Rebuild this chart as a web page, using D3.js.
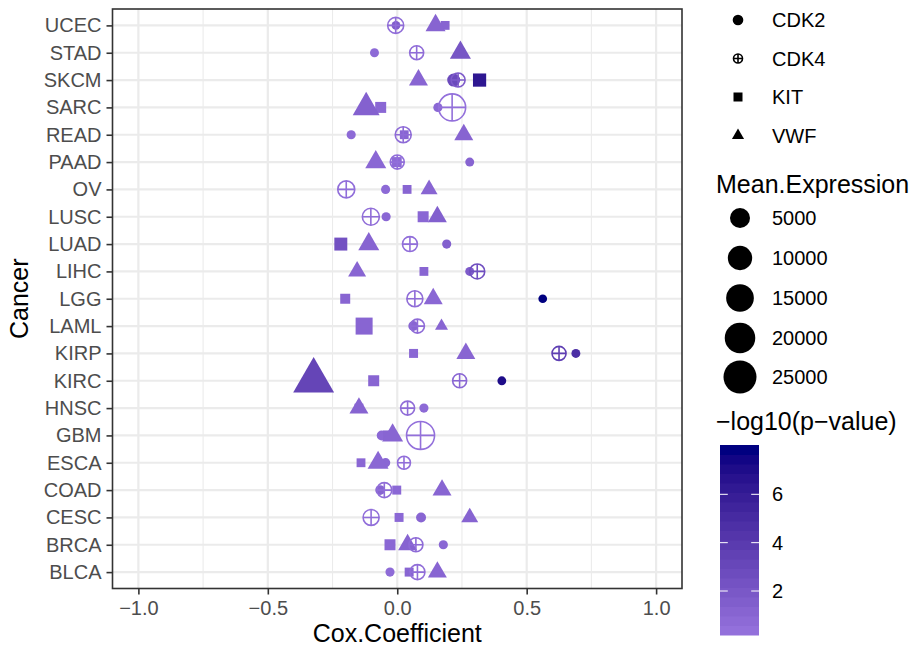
<!DOCTYPE html>
<html>
<head>
<meta charset="utf-8">
<script src="https://cdn.jsdelivr.net/npm/d3@7"></script>
<style>
body { margin: 0; background: #fff; }
text { font-family: "Liberation Sans", Arial, sans-serif; }
</style>
</head>
<body>
<div id="chart"></div>
<script>
/* Cox coefficient dot plot */

const width = 919,
    height = 648,
    margin = ({ top: 9, right: 237, bottom: 59.5, left: 112.5 });

// data, cancers from bottom (BLCA) to top (UCEC)
const cancers = ["BLCA","BRCA","CESC","COAD","ESCA","GBM","HNSC","KIRC","KIRP","LAML","LGG",
                 "LIHC","LUAD","LUSC","OV","PAAD","READ","SARC","SKCM","STAD","UCEC"];
const genes = ["CDK2","CDK4","KIT","VWF"];

const cdk2Coef = [-0.028,0.178,0.092,-0.066,-0.045,-0.06,0.103,0.404,0.69,0.062,0.562,0.28,0.191,-0.043,-0.045,0.28,-0.178,0.157,0.218,-0.088,-0.005];
const cdk2Expr = [20,20,100,80,30,100,20,5,10,100,2,10,20,20,20,10,20,20,900,10,5];
const cdk2LogP = [0.5,0.8,0.9,1.0,0.8,0.7,0.6,7.2,4.8,0.9,8.04,1.6,1.3,0.8,0.6,1.0,0.6,0.8,2.8,0.6,1.5];

const cdk4Coef = [0.078,0.072,-0.101,-0.05,0.026,0.09,0.04,0.241,0.625,0.078,0.068,0.309,0.049,-0.102,-0.197,0.0,0.023,0.212,0.235,0.075,-0.006];
const cdk4Expr = [1900,1400,2540,1900,900,17200,1370,1370,1370,1370,2540,1900,1900,3270,3270,1370,2540,15500,1370,1370,2540];
const cdk4LogP = [0.4,0.5,0.3,0.4,0.3,0.2,0.4,0.8,3.6,0.5,0.4,2.5,0.3,0.4,0.3,0.3,0.5,0.18,1.6,0.4,0.4];

const kitCoef = [0.046,-0.028,0.007,-0.002,-0.14,-0.035,-0.148,-0.091,0.063,-0.128,-0.201,0.103,-0.218,0.1,0.038,-0.002,0.027,-0.064,0.318,0.244,0.185];
const kitExpr = [10,280,10,10,5,100,5,280,10,3270,100,5,900,280,5,100,5,280,1000,5,5];
const kitLogP = [0.9,0.8,0.7,0.7,0.8,0.9,0.9,0.9,0.8,0.9,0.9,0.9,2.3,0.8,0.9,0.6,0.9,0.8,6.5,1.0,1.0];

const vwfCoef = [0.155,0.04,0.28,0.173,-0.074,-0.018,-0.148,-0.323,0.265,0.171,0.139,-0.155,-0.11,0.155,0.123,-0.083,0.257,-0.12,0.082,0.244,0.148];
const vwfExpr = [1420,1420,760,1420,2280,2280,1420,21700,1420,60,1420,1080,2280,1420,760,2280,1420,5980,1420,2280,1830];
const vwfLogP = [0.9,1.0,1.0,0.9,0.8,0.9,1.0,3.2,0.9,0.9,0.8,0.9,1.0,1.3,0.9,0.8,1.0,1.2,0.9,2.0,1.0];

const xTicks = [-1, -0.5, 0, 0.5, 1];
const xMinor = [-0.75, -0.25, 0.25, 0.75];
const sizeBreaks = [5000, 10000, 15000, 20000, 25000];
const colorTicks = [2, 4, 6];

// build long table, draw order CDK2, KIT, VWF, CDK4
const cols = {
  CDK2: [cdk2Coef, cdk2Expr, cdk2LogP],
  CDK4: [cdk4Coef, cdk4Expr, cdk4LogP],
  KIT: [kitCoef, kitExpr, kitLogP],
  VWF: [vwfCoef, vwfExpr, vwfLogP]
};
let data = [];
for (let g of ["CDK2", "KIT", "VWF", "CDK4"]) {
  cancers.forEach((c, i) => {
    data.push({ cancer: c, gene: g, coef: cols[g][0][i], expr: cols[g][1][i], logp: cols[g][2][i] });
  });
}

const svg = d3.select("#chart")
  .append("svg")
  .attr("width", width)
  .attr("height", height);

svg.append("rect").attr("width", width).attr("height", height).attr("fill", "#fff");

let x = d3.scaleLinear()
  .domain([-1.1, 1.1])
  .range([margin.left, width - margin.right]);

let y = d3.scalePoint()
  .domain(cancers.slice().reverse())
  .range([margin.top, height - margin.bottom])
  .padding(0.6);

let r = d3.scaleSqrt()
  .domain([0, 25000])
  .range([4.25, 16.0]);

let allLogP = data.map(d => d.logp);
let color = d3.scaleLinear()
  .domain(d3.extent(allLogP))
  .range(["mediumpurple", "navy"])
  .interpolate(d3.interpolateLab);

// grid
const grid = svg.append("g");
grid.selectAll(".minor").data(xMinor).join("line")
  .attr("x1", d => x(d)).attr("x2", d => x(d))
  .attr("y1", margin.top).attr("y2", height - margin.bottom)
  .attr("stroke", "#ebebeb").attr("stroke-width", 1.1);
grid.selectAll(".major").data(xTicks).join("line")
  .attr("x1", d => x(d)).attr("x2", d => x(d))
  .attr("y1", margin.top).attr("y2", height - margin.bottom)
  .attr("stroke", "#ebebeb").attr("stroke-width", 2.2);
grid.selectAll(".hline").data(cancers).join("line")
  .attr("x1", margin.left).attr("x2", width - margin.right)
  .attr("y1", d => y(d)).attr("y2", d => y(d))
  .attr("stroke", "#ebebeb").attr("stroke-width", 2.2);

// points
function shape(sel, gene, R, col) {
  if (gene === "CDK2") {
    sel.append("circle").attr("r", R).attr("fill", col);
  } else if (gene === "CDK4") {
    sel.append("circle").attr("r", R).attr("fill", "none").attr("stroke", col).attr("stroke-width", 1.6);
    sel.append("path").attr("d", `M${-R},0H${R}M0,${-R}V${R}`).attr("stroke", col).attr("stroke-width", 1.6);
  } else if (gene === "KIT") {
    sel.append("rect").attr("x", -R).attr("y", -R).attr("width", 2 * R).attr("height", 2 * R).attr("fill", col);
  } else {
    const top = 1.5551 * R, hw = 1.3468 * R, bot = 0.7776 * R;
    sel.append("path").attr("d", `M0,${-top}L${hw},${bot}L${-hw},${bot}Z`).attr("fill", col);
  }
}

const pts = svg.append("g");
data.forEach(d => {
  const g = pts.append("g").attr("transform", `translate(${x(d.coef)},${y(d.cancer)})`);
  shape(g, d.gene, r(d.expr), color(d.logp));
});

// panel border
svg.append("rect")
  .attr("x", margin.left).attr("y", margin.top)
  .attr("width", width - margin.right - margin.left)
  .attr("height", height - margin.bottom - margin.top)
  .attr("fill", "none").attr("stroke", "#333").attr("stroke-width", 1.6);

// axes
const yAxis = svg.append("g")
  .attr("transform", `translate(${margin.left},0)`)
  .call(d3.axisLeft(y).tickSize(6).tickPadding(5));
const xAxis = svg.append("g")
  .attr("transform", `translate(0,${height - margin.bottom})`)
  .call(d3.axisBottom(x).tickValues(xTicks).tickFormat(d3.format(".1f")).tickSize(6).tickPadding(5));
for (let a of [yAxis, xAxis]) {
  a.select(".domain").remove();
  a.selectAll("line").attr("stroke", "#333").attr("stroke-width", 1.6);
  a.selectAll("text").attr("fill", "#4d4d4d").attr("font-size", 20).attr("font-family", "Liberation Sans, Arial, sans-serif");
}
xAxis.selectAll("text").attr("dy", "0.75em");

svg.append("text")
  .attr("x", (margin.left + width - margin.right) / 2)
  .attr("y", 642)
  .attr("text-anchor", "middle")
  .attr("font-size", 25)
  .text("Cox.Coefficient");

svg.append("text")
  .attr("transform", `translate(28,${(margin.top + height - margin.bottom) / 2}) rotate(-90)`)
  .attr("text-anchor", "middle")
  .attr("font-size", 25)
  .text("Cancer");

// shape legend
const shapeY = [20, 58.5, 97, 135.5];
genes.forEach((gname, i) => {
  const g = svg.append("g").attr("transform", `translate(738,${shapeY[i]})`);
  shape(g, gname, gname === "CDK2" ? 5.3 : 4.5, "#000");
  svg.append("text").attr("x", 772).attr("y", shapeY[i] + 7).attr("font-size", 20).text(gname);
});

// size legend
svg.append("text").attr("x", 716).attr("y", 193).attr("font-size", 25).text("Mean.Expression");
const sizeY = [218, 258, 298, 338, 377];
sizeBreaks.forEach((v, i) => {
  svg.append("circle").attr("cx", 740).attr("cy", sizeY[i]).attr("r", r(v) + 0.5).attr("fill", "#000");
  svg.append("text").attr("x", 772).attr("y", sizeY[i] + 7).attr("font-size", 20).text(v);
});

// colour bar
svg.append("text").attr("x", 716).attr("y", 430).attr("font-size", 25).text("\u2212log10(p\u2212value)");
const barX = 720, barW = 39, barTop = 445, barBot = 635, nbin = 20;
const [lo, hi] = color.domain();
let barY = d3.scaleLinear().domain([lo, hi]).range([barBot, barTop]);
let bins = d3.range(nbin).map(i => lo + (hi - lo) * i / (nbin - 1));
const bh = (barBot - barTop) / nbin;
svg.append("g").selectAll("rect").data(bins).join("rect")
  .attr("x", barX)
  .attr("y", (d, i) => barBot - (i + 1) * bh)
  .attr("width", barW)
  .attr("height", bh + 0.5)
  .attr("fill", d => color(d));
colorTicks.forEach(t => {
  const ty = barY(t);
  svg.append("line").attr("x1", barX).attr("x2", barX + 7.8).attr("y1", ty).attr("y2", ty).attr("stroke", "#fff").attr("stroke-width", 1);
  svg.append("line").attr("x1", barX + barW - 7.8).attr("x2", barX + barW).attr("y1", ty).attr("y2", ty).attr("stroke", "#fff").attr("stroke-width", 1);
  svg.append("text").attr("x", 772).attr("y", ty + 7).attr("font-size", 20).text(t);
});
</script>
</body>
</html>
